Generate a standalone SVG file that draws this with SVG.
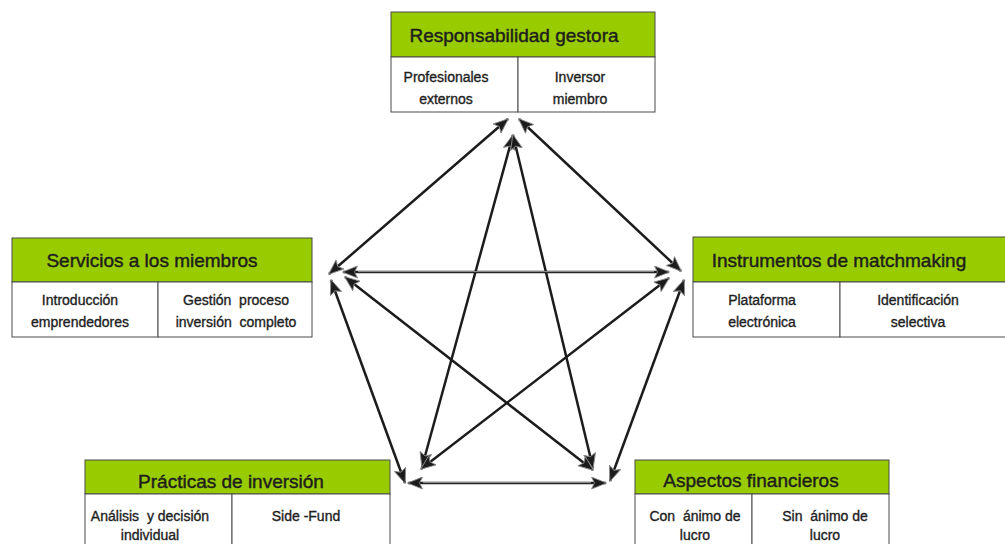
<svg xmlns="http://www.w3.org/2000/svg" width="1005" height="544" viewBox="0 0 1005 544">
  <style>
    .hdr { fill: #99cc00; stroke: #4a4a4a; stroke-width: 1; }
    .cell { fill: #ffffff; stroke: #4a4a4a; stroke-width: 1; }
    .title { font-family: "Liberation Sans", Arial, sans-serif; font-size: 19px; fill: #1e1e1e; stroke: #1e1e1e; stroke-width: 0.45; text-anchor: middle; }
    .sub { font-family: "Liberation Sans", Arial, sans-serif; font-size: 14px; fill: #1e1e1e; stroke: #1e1e1e; stroke-width: 0.35; text-anchor: middle; white-space: pre; }
    .link { stroke: #1c1c1c; stroke-width: 2.5; fill: none; marker-start: url(#head); marker-end: url(#head); }
    .shine { stroke: #a0a0a0; stroke-width: 0.9; fill: none; }
  </style>
  <defs>
    <marker id="head" viewBox="0 0 16 13" refX="15" refY="6.5" markerWidth="16" markerHeight="13" markerUnits="userSpaceOnUse" orient="auto-start-reverse">
      <path d="M0.5,0.5 L15.5,6.5 L0.5,12.5 L3.5,6.5 z" fill="#1c1c1c" stroke="#8a8a8a" stroke-width="0.9"/>
    </marker>
  </defs>
  <rect width="1005" height="544" fill="#ffffff"/>

  <!-- connectors -->
  <g id="connectors">
    <!-- outer pentagon -->
    <line class="link" x1="508" y1="119" x2="329" y2="274"/>
    <line class="link" x1="519" y1="119" x2="681" y2="271"/>
    <line class="link" x1="343" y1="272" x2="669" y2="272"/>
    <line class="link" x1="331" y1="280" x2="405" y2="483"/>
    <line class="link" x1="684" y1="280" x2="610" y2="481"/>
    <line class="link" x1="408" y1="483" x2="606" y2="483"/>
    <!-- inner star -->
    <line class="link" x1="513" y1="135" x2="422" y2="467"/>
    <line class="link" x1="513" y1="135" x2="593" y2="468"/>
    <line class="link" x1="345" y1="277" x2="593" y2="470"/>
    <line class="link" x1="669" y1="278" x2="421" y2="469"/>
    <!-- highlight strokes on the horizontal edges -->
    <line class="shine" x1="358" y1="271.6" x2="654" y2="271.6"/>
    <line class="shine" x1="423" y1="482.6" x2="591" y2="482.6"/>
  </g>

  <!-- Responsabilidad gestora -->
  <g id="responsabilidad">
    <rect class="hdr" x="391" y="12" width="264" height="45"/>
    <rect class="cell" x="391" y="57" width="127" height="55"/>
    <rect class="cell" x="518" y="57" width="137" height="55"/>
    <text class="title" x="514" y="42">Responsabilidad gestora</text>
    <text class="sub" x="446" y="82">Profesionales</text>
    <text class="sub" x="446" y="104">externos</text>
    <text class="sub" x="580" y="82">Inversor</text>
    <text class="sub" x="580" y="104">miembro</text>
  </g>

  <!-- Servicios a los miembros -->
  <g id="servicios">
    <rect class="hdr" x="12" y="238" width="300" height="44"/>
    <rect class="cell" x="12" y="282" width="146" height="55"/>
    <rect class="cell" x="158" y="282" width="154" height="55"/>
    <text class="title" x="152" y="267">Servicios a los miembros</text>
    <text class="sub" x="80" y="305">Introducción</text>
    <text class="sub" x="80" y="327">emprendedores</text>
    <text class="sub" x="236" y="305">Gestión  proceso</text>
    <text class="sub" x="236" y="327">inversión  completo</text>
  </g>

  <!-- Instrumentos de matchmaking -->
  <g id="instrumentos">
    <rect class="hdr" x="693" y="237" width="320" height="45"/>
    <rect class="cell" x="693" y="282" width="147" height="55"/>
    <rect class="cell" x="840" y="282" width="173" height="55"/>
    <text class="title" x="839" y="267">Instrumentos de matchmaking</text>
    <text class="sub" x="762" y="305">Plataforma</text>
    <text class="sub" x="762" y="327">electrónica</text>
    <text class="sub" x="918" y="305">Identificación</text>
    <text class="sub" x="918" y="327">selectiva</text>
  </g>

  <!-- Prácticas de inversión -->
  <g id="practicas">
    <rect class="hdr" x="85" y="460" width="305" height="34"/>
    <rect class="cell" x="85" y="494" width="147" height="60"/>
    <rect class="cell" x="232" y="494" width="158" height="60"/>
    <text class="title" x="231" y="488">Prácticas de inversión</text>
    <text class="sub" x="150" y="521">Análisis  y decisión</text>
    <text class="sub" x="150" y="540">individual</text>
    <text class="sub" x="306" y="521">Side -Fund</text>
  </g>

  <!-- Aspectos financieros -->
  <g id="aspectos">
    <rect class="hdr" x="635" y="460" width="254" height="34"/>
    <rect class="cell" x="635" y="494" width="117" height="60"/>
    <rect class="cell" x="752" y="494" width="137" height="60"/>
    <text class="title" x="751" y="487">Aspectos financieros</text>
    <text class="sub" x="695" y="521">Con  ánimo de</text>
    <text class="sub" x="695" y="540">lucro</text>
    <text class="sub" x="825" y="521">Sin  ánimo de</text>
    <text class="sub" x="825" y="540">lucro</text>
  </g>
</svg>
